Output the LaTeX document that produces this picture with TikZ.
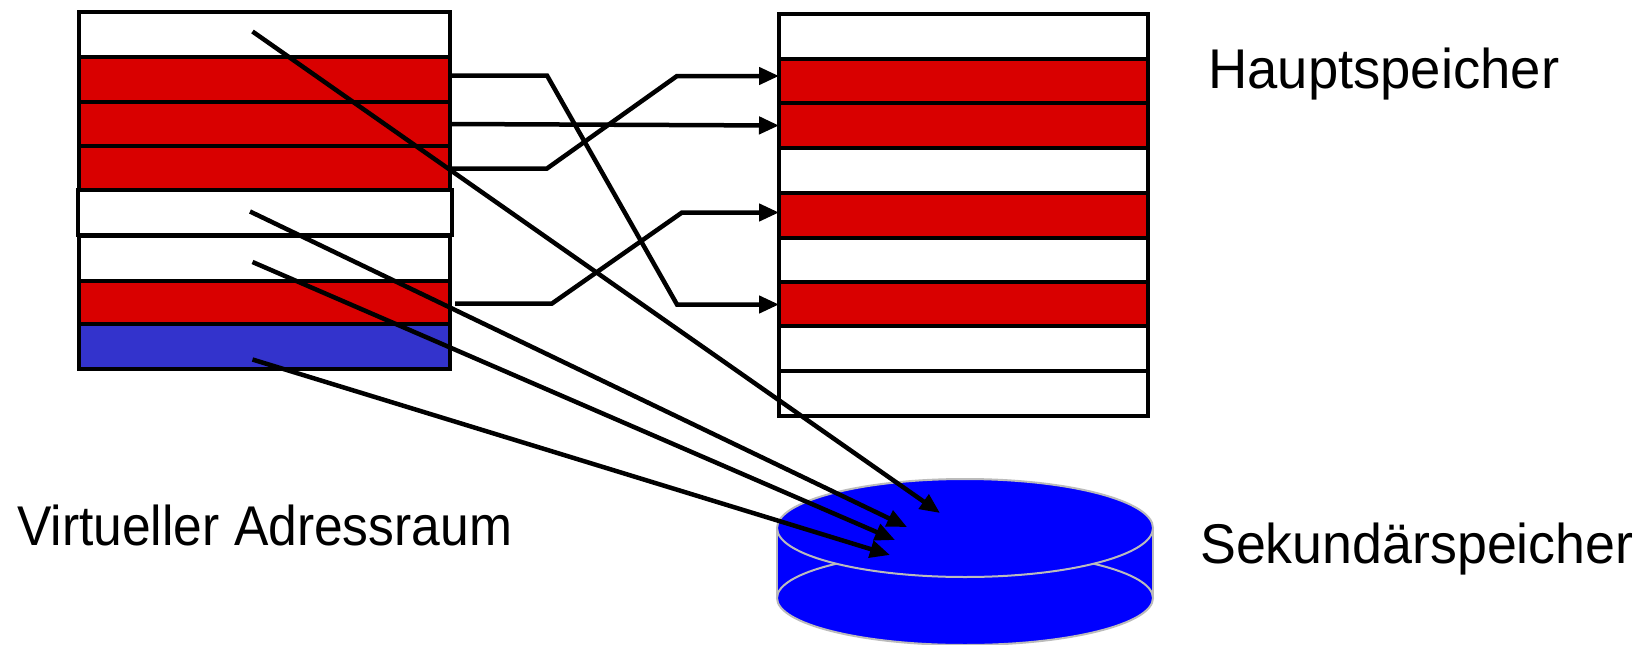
\documentclass[tikz,border=0pt]{standalone}
\usepackage{fontspec}
\setmainfont{Liberation Sans}
\usetikzlibrary{arrows.meta,calc}
\definecolor{pagered}{HTML}{D90000}
\definecolor{swapblue}{HTML}{3333CC}
\definecolor{diskblue}{HTML}{0000FF}
\definecolor{diskrim}{HTML}{BBBBBB}
\tikzset{
  row/.style={draw=black, line width=4pt, minimum width=371pt, minimum height=45pt, inner sep=0pt, outer sep=0pt},
  mrow/.style={row, minimum width=369pt},
  conn/.style={draw=black, line width=4.5pt, line join=miter},
  arr/.style={conn, -{Triangle[length=20pt,width=17pt]}},
  diskedge/.style={draw=diskrim, line width=2pt},
  lbl/.style={font=\fontsize{56}{60}\selectfont, inner sep=0pt, anchor=base west}
}
\begin{document}
\begin{tikzpicture}[x=1pt,y=-1pt]
\useasboundingbox[fill=white] (0,0) rectangle (1642,645);
% virtual address space
\node[row, fill=white]    (L1) at (264.5,34.5)  {};
\node[row, fill=pagered]  (L2) at (264.5,79.5)  {};
\node[row, fill=pagered]  (L3) at (264.5,124)   {};
\node[row, fill=pagered]  (L4) at (264.5,168.5) {};
\node[row, fill=white]    (L6) at (264.5,258)   {};
\node[row, fill=pagered]  (L7) at (264.5,303.5) {};
\node[row, fill=swapblue] (L8) at (264.5,346.5) {};
\node[row, fill=white, minimum width=374pt] (L5) at (265,212.5) {};
% main memory
\node[mrow, fill=white]   (R1) at (963.5,36.5)  {};
\node[mrow, fill=pagered] (R2) at (963.5,81)    {};
\node[mrow, fill=pagered] (R3) at (963.5,125.5) {};
\node[mrow, fill=white]   (R4) at (963.5,170.5) {};
\node[mrow, fill=pagered] (R5) at (963.5,215.5) {};
\node[mrow, fill=white]   (R6) at (963.5,260.5) {};
\node[mrow, fill=pagered] (R7) at (963.5,304.5) {};
\node[mrow, fill=white]   (R8) at (963.5,348.5) {};
\node[mrow, fill=white]   (R9) at (963.5,393.5) {};
% secondary storage (disk)
\coordinate (disk) at (965,528);
\fill[diskblue] (777,528) rectangle (1153,598);
\draw[diskedge] (777,528) -- (777,598) (1153,528) -- (1153,598);
\filldraw[diskedge, fill=diskblue] (965,598) ellipse [x radius=188pt, y radius=47pt];
\filldraw[diskedge, fill=diskblue] (disk) ellipse [x radius=188pt, y radius=49pt];
% mappings to main memory
\draw[arr] ($(L2.east)+(0,-4)$) -- ++(97,0) -- ($(R7.west)+(-102,0)$) -- (R7.west);
\draw[arr] (L3.east) -- (R3.west);
\draw[arr] (L4.east) -- ++(97,0) -- ($(R2.west)+(-102,-5)$) -- ($(R2.west)+(0,-5)$);
\draw[arr] ($(L7.east)+(5,0)$) -- ++(97,0) -- ($(R5.west)+(-97,-3)$) -- ($(R5.west)+(0,-3)$);
% mappings to disk
\draw[arr] ($(L1.center)+(-12,-3)$) -- ($(disk)+(-25,-15)$);
\draw[arr] ($(L5.center)+(-15,-1)$) -- ($(disk)+(-58,-1)$);
\draw[arr] ($(L6.center)+(-12,4)$)  -- ($(disk)+(-70,12)$);
\draw[arr] ($(L8.center)+(-12,13)$) -- ($(disk)+(-75,27)$);
% labels
\node[lbl] (haupt) at (1208,88)  {\scalebox{0.972}[1]{Hauptspeicher}};
\node[lbl] (virt)  at (17,545)   {\scalebox{0.921}[1]{Virtueller Adressraum}};
\node[lbl] (sek)   at (1200,563) {\scalebox{0.96}[1]{Sekundärspeicher}};
\end{tikzpicture}
\end{document}
